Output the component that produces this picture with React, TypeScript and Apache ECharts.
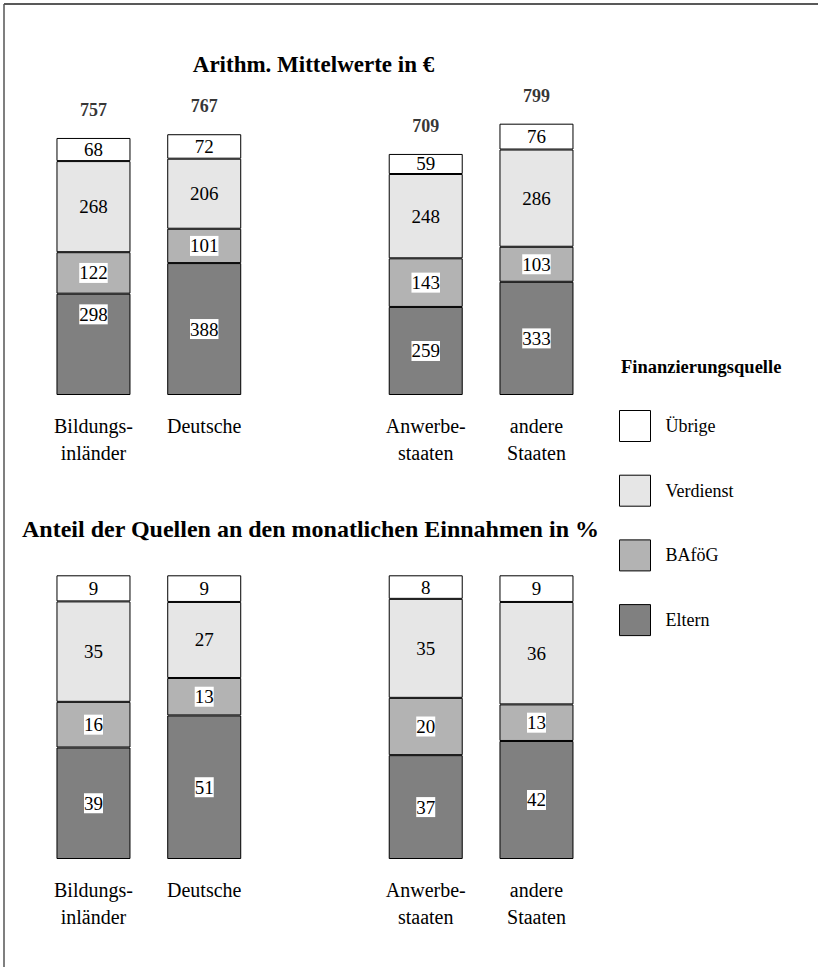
import React, { useEffect, useRef } from "react";
import * as echarts from "echarts";

const categories = ["Bildungs-\ninländer", "Deutsche", "Anwerbe-\nstaaten", "andere\nStaaten"];
const sources = ["Eltern", "BAföG", "Verdienst", "Übrige"];
const legendOrder = ["Übrige", "Verdienst", "BAföG", "Eltern"];
const sourceColors = ["#808080", "#b3b3b3", "#e6e6e6", "#ffffff"];
const boxedLabels = [true, true, false, false];

// Arithm. Mittelwerte in €
const euroEltern = [298, 388, 259, 333];
const euroBafoeg = [122, 101, 143, 103];
const euroVerdienst = [268, 206, 248, 286];
const euroUebrige = [68, 72, 59, 76];
const euroTotals = [757, 767, 709, 799];

// Anteil der Quellen in %
const pctEltern = [39.3, 50.6, 36.6, 41.6];
const pctBafoeg = [16.1, 13.2, 20.2, 12.9];
const pctVerdienst = [35.4, 26.8, 34.9, 36.1];
const pctUebrige = [9.2, 9.4, 8.3, 9.4];

const titleTop = "Arithm. Mittelwerte in €";
const titleBottom = "Anteil der Quellen an den monatlichen Einnahmen in %";
const legendTitle = "Finanzierungsquelle";

const FONT = "Liberation Serif, Times New Roman, serif";

function withGap<T>(arr: T[], gap: T): T[] {
  return [arr[0], arr[1], gap, arr[2], arr[3]];
}

export default function App() {
  const ref = useRef<HTMLDivElement>(null);

  useEffect(() => {
    document.body.style.margin = "0";
    if (!ref.current) return;
    const chart = echarts.init(ref.current, undefined, { renderer: "svg" });

    const euroSets = [euroEltern, euroBafoeg, euroVerdienst, euroUebrige];
    const pctSets = [pctEltern, pctBafoeg, pctVerdienst, pctUebrige];

    const barSeries = (sets: number[][], panel: number) =>
      sources.map((name, si) => {
        const items: any[] = sets[si].map((v, ci) =>
          panel === 0 && si === 0 && ci === 0
            ? { value: v, label: { offset: [0, -30] } }
            : v
        );
        return {
          type: "bar",
          name,
          xAxisIndex: panel,
          yAxisIndex: panel,
          stack: "p" + panel,
          barWidth: 74,
          data: withGap<any>(items, "-"),
          itemStyle: { color: sourceColors[si], borderColor: "#000", borderWidth: 1 },
          label: {
            show: true,
            position: "inside",
            formatter: (p: any) => String(Math.round(Number(p.value))),
            fontSize: 19,
            fontFamily: FONT,
            color: "#000",
            backgroundColor: boxedLabels[si] ? "#ffffff" : "transparent",
            padding: [1, 0, 0, 0],
          },
          emphasis: { disabled: true },
        };
      });

    const stackSums = categories.map((_, i) => euroSets.reduce((s, arr) => s + arr[i], 0));
    const totalData = withGap<any>(
      categories.map((_, i) => ({
        value: stackSums[i],
        label: { formatter: String(euroTotals[i]) },
      })),
      "-"
    );

    const xAxisBase = (gi: number) => ({
      type: "category",
      gridIndex: gi,
      data: withGap(categories, ""),
      axisLine: { show: false },
      axisTick: { show: false },
      axisLabel: {
        interval: 0,
        fontSize: 20,
        lineHeight: 27,
        margin: 17,
        color: "#000",
        fontFamily: FONT,
      },
    });

    const option: any = {
      animation: false,
      backgroundColor: "#ffffff",
      textStyle: { fontFamily: FONT },
      grid: [
        { left: 38.1, top: 89, width: 553.75, height: 306 },
        { left: 38.1, top: 575.3, width: 553.75, height: 283.7 },
      ],
      xAxis: [xAxisBase(0), xAxisBase(1)],
      yAxis: [
        { type: "value", gridIndex: 0, min: 0, max: 900, show: false, splitLine: { show: false } },
        { type: "value", gridIndex: 1, min: 0, max: 100, show: false, splitLine: { show: false } },
      ],
      legend: {
        data: legendOrder,
        orient: "vertical",
        left: 619,
        top: 410,
        padding: 0,
        itemWidth: 31,
        itemHeight: 31,
        itemGap: 32.7,
        icon: "rect",
        selectedMode: false,
        itemStyle: { borderColor: "#000", borderWidth: 1 },
        textStyle: { fontSize: 18, fontFamily: FONT, color: "#000", padding: [8, 0, 0, 10] },
      },
      series: [
        ...barSeries(euroSets, 0),
        ...barSeries(pctSets, 1),
        {
          type: "scatter",
          name: "Summe",
          xAxisIndex: 0,
          yAxisIndex: 0,
          symbolSize: 0,
          data: totalData,
          label: {
            show: true,
            position: "top",
            distance: 19,
            fontSize: 18,
            fontWeight: "bold",
            fontFamily: FONT,
            color: "#000",
          },
          emphasis: { disabled: true },
        },
      ],
      graphic: [
        { type: "line", shape: { x1: 4, y1: 4, x2: 818, y2: 4 }, style: { stroke: "#222", lineWidth: 1.5 } },
        { type: "line", shape: { x1: 4, y1: 4, x2: 4, y2: 967 }, style: { stroke: "#555", lineWidth: 1.5 } },
        {
          type: "text",
          x: 313.5,
          y: 64,
          style: {
            text: titleTop,
            fontSize: 23,
            fontWeight: "bold",
            fontFamily: FONT,
            fill: "#000",
            align: "center",
            verticalAlign: "middle",
          },
        },
        {
          type: "text",
          x: 22,
          y: 529,
          style: {
            text: titleBottom,
            fontSize: 24,
            fontWeight: "bold",
            fontFamily: FONT,
            fill: "#000",
            align: "left",
            verticalAlign: "middle",
          },
        },
        {
          type: "text",
          x: 621,
          y: 367,
          style: {
            text: legendTitle,
            fontSize: 18.5,
            fontWeight: "bold",
            fontFamily: FONT,
            fill: "#000",
            align: "left",
            verticalAlign: "middle",
          },
        },
      ],
    };

    chart.setOption(option);
    return () => chart.dispose();
  }, []);

  return <div ref={ref} style={{ width: 818, height: 967 }} />;
}
